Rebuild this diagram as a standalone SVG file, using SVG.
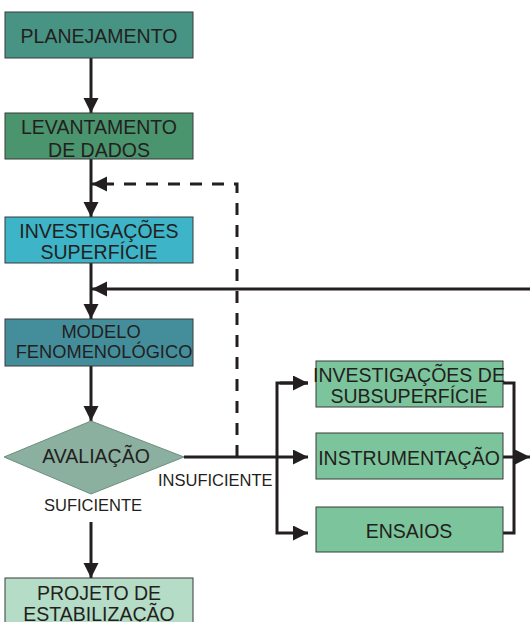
<svg xmlns="http://www.w3.org/2000/svg" width="530" height="622" viewBox="0 0 530 622">
<style>
.box{stroke:#3a3a3a;stroke-width:1}
.t{font-family:"Liberation Sans",Arial,sans-serif;font-size:19.5px;fill:#231f20;text-anchor:middle}
.s{font-family:"Liberation Sans",Arial,sans-serif;font-size:16.5px;fill:#231f20}
.ln{stroke:#231f20;stroke-width:3;fill:none}
.dash{stroke:#231f20;stroke-width:3;fill:none;stroke-dasharray:12 10}
</style>
<defs>
<marker id="ah" markerUnits="userSpaceOnUse" markerWidth="16" markerHeight="16" refX="15" refY="7.5" orient="auto">
<path d="M0,0 L15,7.5 L0,15 z" fill="#231f20"/>
</marker>
</defs>
<rect width="530" height="622" fill="#ffffff"/>
<g id="connectors">
<line class="ln" x1="91" y1="58" x2="91" y2="113" marker-end="url(#ah)"/>
<line class="ln" x1="91" y1="159" x2="91" y2="217" marker-end="url(#ah)"/>
<path class="dash" d="M237,457 L237,184 L107,184"/>
<line class="ln" x1="106" y1="184" x2="92" y2="184" marker-end="url(#ah)"/>
<line class="ln" x1="91" y1="263" x2="91" y2="319" marker-end="url(#ah)"/>
<line class="ln" x1="530" y1="289" x2="92" y2="289" marker-end="url(#ah)"/>
<line class="ln" x1="91" y1="366" x2="91" y2="421" marker-end="url(#ah)"/>
<line class="ln" x1="91" y1="522" x2="91" y2="578" marker-end="url(#ah)"/>
<line class="ln" x1="184" y1="457" x2="308" y2="457" marker-end="url(#ah)"/>
<path class="ln" d="M308,383 L277,383 L277,533 L308,533" marker-end="url(#ah)"/>
<line class="ln" x1="280" y1="383" x2="308" y2="383" marker-end="url(#ah)"/>
<path class="ln" d="M503,383 L514,383 L514,533 L503,533"/>
<line class="ln" x1="503" y1="457" x2="530" y2="457" marker-end="url(#ah)"/>
</g>
<g id="planejamento">
<rect class="box" x="5" y="12" width="188" height="46" fill="#479384"/>
<text class="t" x="99" y="43">PLANEJAMENTO</text>
</g>
<g id="levantamento">
<rect class="box" x="5" y="113" width="188" height="46" fill="#4a946e"/>
<text class="t" x="99" y="134">LEVANTAMENTO</text>
<text class="t" x="99" y="157">DE DADOS</text>
</g>
<g id="invest-superficie">
<rect class="box" x="5" y="217" width="188" height="46" fill="#3db4c7"/>
<text class="t" x="99" y="238">INVESTIGAÇÕES</text>
<text class="t" x="99" y="259">SUPERFÍCIE</text>
</g>
<g id="modelo">
<rect class="box" x="5" y="319" width="188" height="47" fill="#448e9c"/>
<text class="t" x="101" y="338" style="font-size:18.3px">MODELO</text>
<text class="t" x="104" y="358" style="font-size:18.3px">FENOMENOLÓGICO</text>
</g>
<g id="avaliacao">
<polygon points="91,421 184,457 91,494 4,457" fill="#8bb09f" stroke="#6d8f80" stroke-width="1"/>
<text class="t" x="96" y="463">AVALIAÇÃO</text>
</g>
<text class="s" x="158" y="486">INSUFICIENTE</text>
<text class="s" x="44" y="511">SUFICIENTE</text>
<g id="invest-subsuperficie">
<rect class="box" x="316" y="361" width="187" height="46" fill="#7cc49c"/>
<text class="t" x="409" y="382">INVESTIGAÇÕES DE</text>
<text class="t" x="409" y="403">SUBSUPERFÍCIE</text>
</g>
<g id="instrumentacao">
<rect class="box" x="316" y="433" width="187" height="46" fill="#7cc49c"/>
<text class="t" x="409" y="465">INSTRUMENTAÇÃO</text>
</g>
<g id="ensaios">
<rect class="box" x="316" y="507" width="187" height="45" fill="#7cc49c"/>
<text class="t" x="409" y="538">ENSAIOS</text>
</g>
<g id="projeto">
<rect class="box" x="5" y="578" width="188" height="50" fill="#b4dcc6"/>
<text class="t" x="99" y="600">PROJETO DE</text>
<text class="t" x="99" y="621">ESTABILIZAÇÃO</text>
</g>
</svg>
